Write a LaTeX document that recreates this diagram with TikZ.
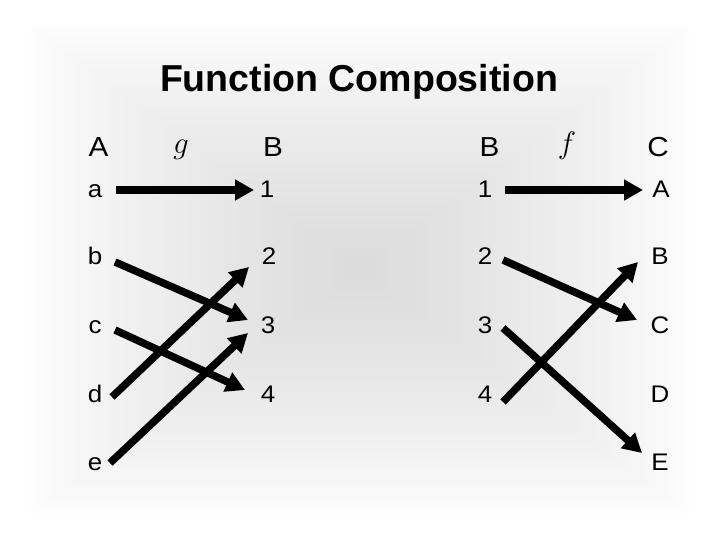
\RequirePackage{fix-cm}
\documentclass[tikz,border=0pt]{standalone}
\usepackage{fontspec}
\setmainfont{Liberation Sans}
\newfontfamily\labelfont[FakeStretch=1.08]{Liberation Sans}
\usetikzlibrary{arrows.meta}
\tikzset{
  title/.style={font=\fontsize{37.5}{40}\selectfont\bfseries, anchor=base},
  head/.style={font=\labelfont\fontsize{27.5}{30}\selectfont, anchor=base, inner sep=0pt},
  item/.style={font=\labelfont\fontsize{24}{26}\selectfont, anchor=base, inner sep=0pt},
  fname/.style={font=\fontsize{31}{34}\selectfont, anchor=base, inner sep=0pt},
  maparrow/.style={line width=7.5pt, -{Triangle[length=19pt,width=20pt]}},
}
\begin{document}
\begin{tikzpicture}[x=1pt,y=-1pt]
\useasboundingbox (0,0) rectangle (720,540);
% background: rectangular gradient, grey in the middle, white at the rim
\fill[white] (0,0) rectangle (720,540);
\foreach \i in {0,...,59}{
  \pgfmathsetmacro\w{335*(1-\i/60)}
  \pgfmathsetmacro\h{248*(1-\i/60)}
  \pgfmathsetmacro\p{28*(\i/59)^0.75}
  \fill[gray!\p] (360-\w,270-\h) rectangle (360+\w,270+\h);
}
% title
\node[title] (title) at (359,92) {Function Composition};
% headers
\node[head] (hA) at (98.5,157) {A};
\node[head] (hB1) at (273,157) {B};
\node[head] (hB2) at (489.5,157) {B};
\node[head] (hC) at (658,157) {C};
\node[fname] (g) at (181,154) {$g$};
\node[fname] (f) at (567,154) {$f$};
% set A
\node[item] (a) at (95,197) {a};
\node[item] (b) at (95,264) {b};
\node[item] (c) at (95,333) {c};
\node[item] (d) at (95,402) {d};
\node[item] (e) at (95,470) {e};
% set B (left)
\node[item] (l1) at (267,197) {1};
\node[item] (l2) at (269,264) {2};
\node[item] (l3) at (268,333) {3};
\node[item] (l4) at (268,402) {4};
% set B (right)
\node[item] (r1) at (485,197) {1};
\node[item] (r2) at (485,264) {2};
\node[item] (r3) at (485,333) {3};
\node[item] (r4) at (485,402) {4};
% set C
\node[item] (cA) at (661,197) {A};
\node[item] (cB) at (660,264) {B};
\node[item] (cC) at (660,333) {C};
\node[item] (cD) at (660,402) {D};
\node[item] (cE) at (660,470) {E};
% arrow end points
\coordinate (a-o) at (116,190); \coordinate (l1-i) at (254,190);
\coordinate (b-o) at (115,262); \coordinate (l3-ib) at (248,320);
\coordinate (c-o) at (115,330); \coordinate (l4-i) at (245,390);
\coordinate (d-o) at (112,397); \coordinate (l2-i) at (249,267);
\coordinate (e-o) at (110,463); \coordinate (l3-ie) at (248,333);
\coordinate (r1-o) at (505,190); \coordinate (cA-i) at (643,190);
\coordinate (r2-o) at (503,260); \coordinate (cC-i) at (637,320);
\coordinate (r3-o) at (503,328); \coordinate (cE-i) at (642,453);
\coordinate (r4-o) at (503,402); \coordinate (cB-i) at (638,262);
% g arrows
\draw[maparrow] (a-o) -- (l1-i);
\draw[maparrow] (b-o) -- (l3-ib);
\draw[maparrow] (c-o) -- (l4-i);
\draw[maparrow] (d-o) -- (l2-i);
\draw[maparrow] (e-o) -- (l3-ie);
% f arrows
\draw[maparrow] (r1-o) -- (cA-i);
\draw[maparrow] (r2-o) -- (cC-i);
\draw[maparrow] (r3-o) -- (cE-i);
\draw[maparrow] (r4-o) -- (cB-i);
\end{tikzpicture}
\end{document}
